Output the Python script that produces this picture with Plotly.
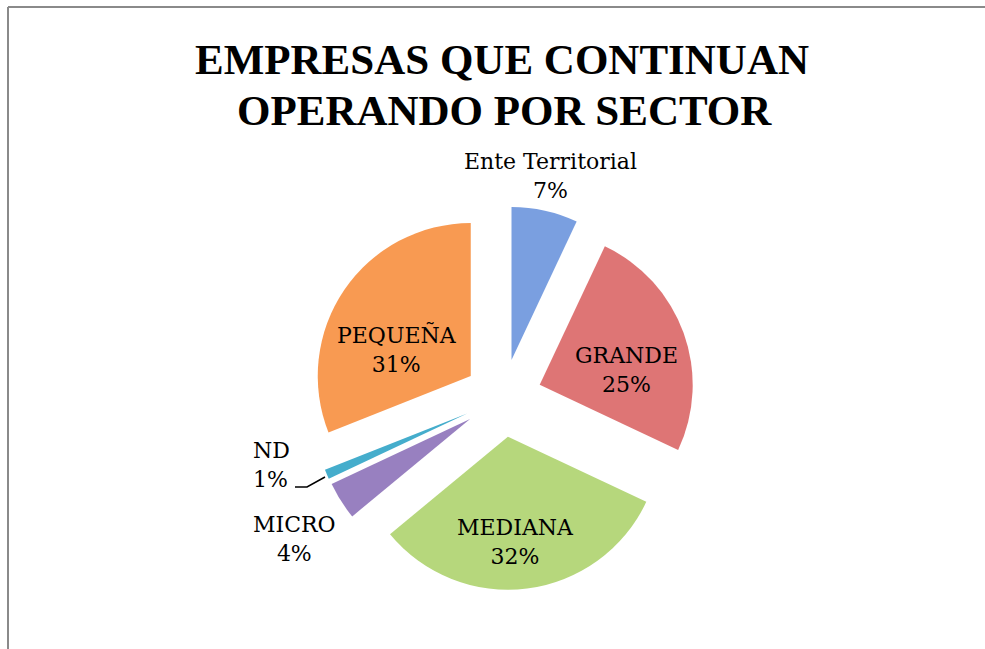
import plotly.graph_objects as go

# ---- data ----
categories = ["Ente Territorial", "GRANDE", "MEDIANA", "MICRO", "ND", "PEQUEÑA"]
values = [7, 25, 32, 4, 1, 31]
colors = ["#7A9FE0", "#DE7575", "#B6D77C", "#9880C0", "#45ADCC", "#F89A52"]

W, H = 985, 649

def px(x):
    return x / W

def py(y):
    return 1 - y / H

SERIF = "DejaVu Serif"
LABEL_FONT = dict(family=SERIF, size=22, color="#000000")

fig = go.Figure(go.Pie(
    labels=categories,
    values=values,
    sort=False,
    direction="clockwise",
    rotation=0,
    pull=[0.255] * len(values),
    marker=dict(colors=colors, line=dict(width=0)),
    textinfo="none",
    domain=dict(x=[px(311), px(695)], y=[py(590), py(206)]),
    showlegend=False,
    hoverinfo="label+percent",
))

total = sum(values)
def lbl(name):
    return f"{name}<br>{round(100 * values[categories.index(name)] / total)}%"

# label placement (layout only): name -> (x px, y px, xanchor)
label_layout = {
    "Ente Territorial": (550, 176, "center"),
    "GRANDE": (626, 370, "center"),
    "MEDIANA": (515, 542, "center"),
    "PEQUEÑA": (397, 349, "center"),
    "ND": (251, 465, "left"),
    "MICRO": (294, 539, "center"),
}

annotations = [
    dict(text="<b>EMPRESAS QUE CONTINUAN</b>", x=px(502), y=py(60), xanchor="center", yanchor="middle",
         font=dict(family="Liberation Serif", size=43, color="#000000"), showarrow=False),
    dict(text="<b>OPERANDO POR SECTOR</b>", x=px(504), y=py(110), xanchor="center", yanchor="middle",
         font=dict(family="Liberation Serif", size=43, color="#000000"), showarrow=False),
]
for name in categories:
    x, y, xa = label_layout[name]
    annotations.append(dict(text=lbl(name), x=px(x), y=py(y), xanchor=xa, yanchor="middle",
                            align="left" if xa == "left" else "center",
                            font=LABEL_FONT, showarrow=False))

shapes = [
    # chart border (top and left visible)
    dict(type="line", xref="paper", yref="paper", x0=px(8), y0=py(7), x1=px(990), y1=py(7),
         line=dict(color="#8A8A8A", width=2)),
    dict(type="line", xref="paper", yref="paper", x0=px(8), y0=py(7), x1=px(8), y1=py(660),
         line=dict(color="#8A8A8A", width=2)),
    # ND leader line
    dict(type="path", xref="paper", yref="paper",
         path=f"M {px(295)},{py(487)} L {px(307)},{py(487)} L {px(325)},{py(477)}",
         line=dict(color="#000000", width=1.5)),
]

fig.update_layout(
    width=W, height=H,
    margin=dict(l=0, r=0, t=0, b=0),
    paper_bgcolor="#FFFFFF",
    plot_bgcolor="#FFFFFF",
    annotations=annotations,
    shapes=shapes,
)

fig.write_html("out.html", config={"displayModeBar": False},
               post_script="document.body.style.margin='0';")
